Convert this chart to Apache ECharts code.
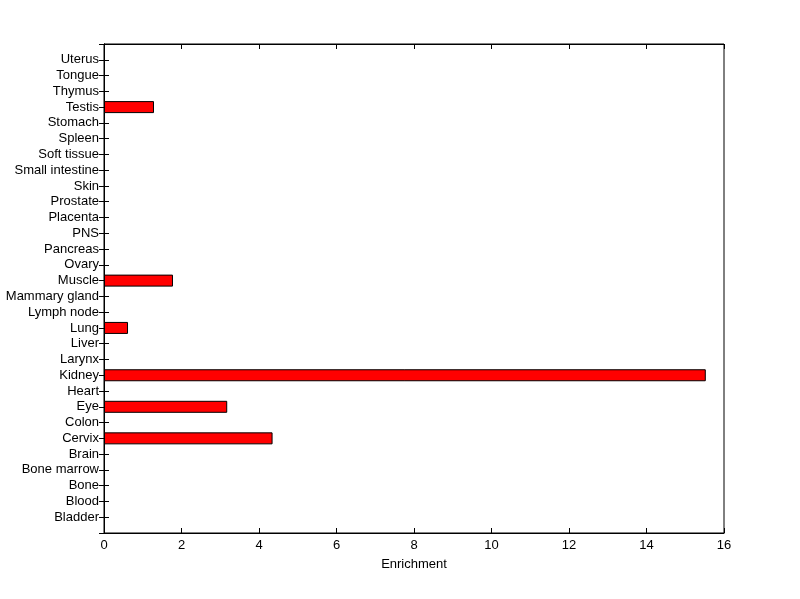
<!DOCTYPE html>
<html>
<head>
<meta charset="utf-8">
<script src="https://cdn.jsdelivr.net/npm/echarts@6/dist/echarts.min.js"></script>
<style>html,body{margin:0;padding:0;background:#fff;}#c{width:800px;height:599px;}</style>
</head>
<body>
<div id="c"></div>
<script>
const categories = ['Bladder','Blood','Bone','Bone marrow','Brain','Cervix','Colon','Eye','Heart','Kidney','Larynx','Liver','Lung','Lymph node','Mammary gland','Muscle','Ovary','Pancreas','PNS','Placenta','Prostate','Skin','Small intestine','Soft tissue','Spleen','Stomach','Testis','Thymus','Tongue','Uterus'];
const enrichment = [0,0,0,0,0,4.35,0,3.18,0,15.53,0,0,0.62,0,0,1.78,0,0,0,0,0,0,0,0,0,0,1.29,0,0,0];
const xTicks = [0,2,4,6,8,10,12,14,16];

const cats = [''].concat(categories).concat(['']);
const vals = [null].concat(enrichment.map(v => v > 0 ? v : null)).concat([null]);
const font = 'Liberation Sans, Arial, sans-serif';

const chart = echarts.init(document.getElementById('c'), null, {renderer: 'canvas'});
chart.setOption({
  backgroundColor: '#fff',
  animation: false,
  grid: {left: 104, right: 76, top: 44, bottom: 66, show: true, borderColor: '#000', borderWidth: 1, backgroundColor: 'transparent'},
  xAxis: [{
    type: 'value', min: xTicks[0], max: xTicks[xTicks.length-1], interval: 2, position: 'bottom',
    name: 'Enrichment', nameLocation: 'middle', nameGap: 25,
    nameTextStyle: {color: '#000', fontFamily: font, fontSize: 13},
    axisLine: {show: true, lineStyle: {color: '#000'}},
    axisTick: {show: true, inside: true, length: 5, lineStyle: {color: '#000'}},
    axisLabel: {color: '#000', fontFamily: font, fontSize: 13, margin: 6},
    splitLine: {show: false}
  }, {
    type: 'value', min: xTicks[0], max: xTicks[xTicks.length-1], interval: 2, position: 'top',
    axisLine: {show: true, lineStyle: {color: '#000'}},
    axisTick: {show: true, inside: true, length: 5, lineStyle: {color: '#000'}},
    axisLabel: {show: false}, splitLine: {show: false}
  }],
  yAxis: [{
    type: 'category', data: cats, boundaryGap: false, position: 'left',
    axisLine: {show: true, lineStyle: {color: '#000'}},
    axisTick: {show: true, inside: true, length: 5, lineStyle: {color: '#000'}},
    axisLabel: {color: '#000', fontFamily: font, fontSize: 13, margin: 5, interval: 0},
    splitLine: {show: false}
  }, {
    type: 'category', data: cats, boundaryGap: false, position: 'right',
    axisLine: {show: true, lineStyle: {color: '#000'}},
    axisTick: {show: true, inside: true, length: 5, lineStyle: {color: '#000'}},
    axisLabel: {show: false}, splitLine: {show: false}
  }],
  series: [{
    type: 'bar', data: vals, xAxisIndex: 0, yAxisIndex: 0, barWidth: 12,
    itemStyle: {color: '#ff0000', borderColor: '#000', borderWidth: 1}
  }]
});
</script>
</body>
</html>
